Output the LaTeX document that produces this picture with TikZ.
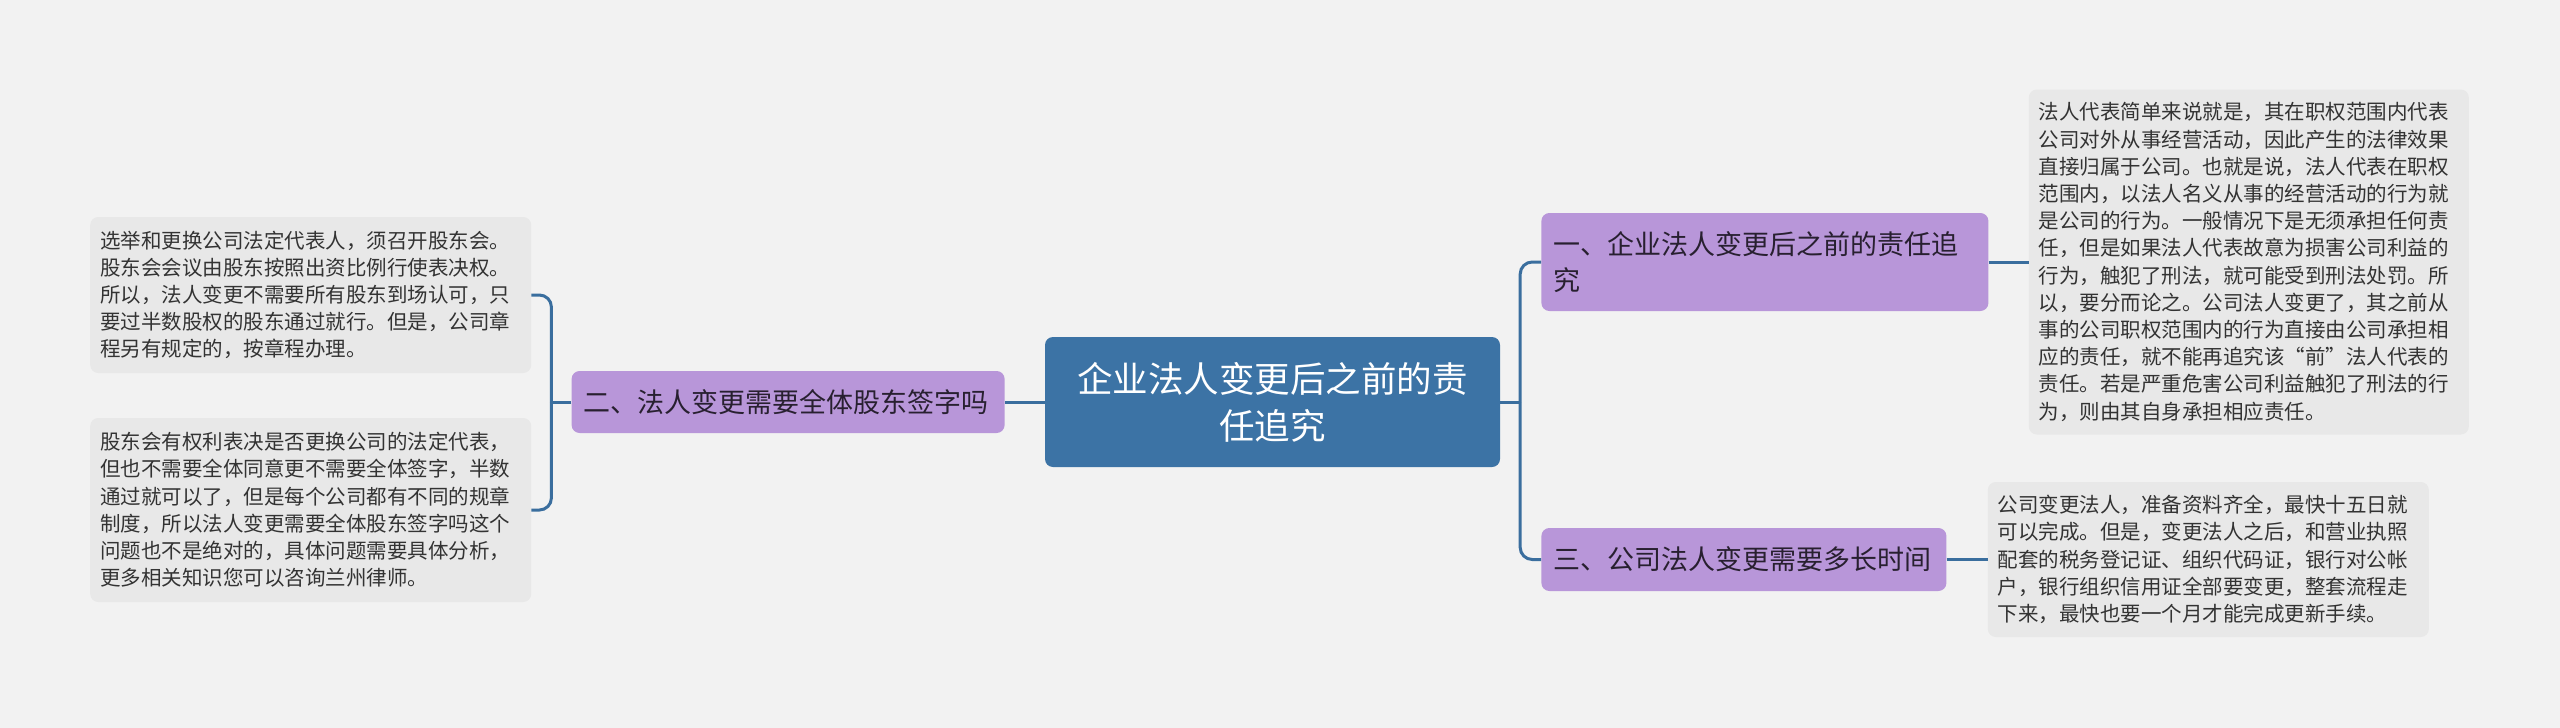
\documentclass[tikz,border=0pt]{standalone}
\usepackage{fontspec}
\setmainfont{Noto Sans CJK SC}
\usepackage{tikz}
\usetikzlibrary{positioning}

\definecolor{bggray}{RGB}{242,242,242}
\definecolor{leafgray}{RGB}{232,232,232}
\definecolor{leaftext}{RGB}{51,51,51}
\definecolor{rootblue}{RGB}{60,115,165}
\definecolor{branchpurple}{RGB}{184,150,217}
\definecolor{branchtext}{RGB}{40,32,48}
\definecolor{linkblue}{RGB}{58,110,158}

\begin{document}
\begin{tikzpicture}[x=1pt,y=-1pt,
  root node/.style={fill=rootblue,text=white,rounded corners=8pt,align=center,
    font=\fontsize{35.5}{47}\selectfont,minimum width=455pt,minimum height=130pt,inner sep=0pt},
  branch node/.style={fill=branchpurple,text=branchtext,rounded corners=8pt,align=left,
    font=\fontsize{27}{36}\selectfont,inner xsep=12pt,inner ysep=0pt},
  leaf node/.style={fill=leafgray,text=leaftext,rounded corners=8pt,align=left,
    font=\fontsize{20.5}{27.2}\selectfont,inner xsep=10pt,inner ysep=0pt,text width=421pt},
  link/.style={draw=linkblue,line width=3pt}]
  \useasboundingbox[fill=bggray] (0,0) rectangle (2560,728);

  \node[root node] (root) at (1272.5,402) {企业法人变更后之前的责\\任追究};

  \node[branch node,text width=409pt,minimum height=62pt] (b2) [left=40pt of root]
    {二、法人变更需要全体股东签字吗};
  \node[branch node,text width=423pt,minimum height=98pt] (b1) [right=41pt of root,yshift=140pt]
    {一、企业法人变更后之前的责任追\\究};
  \node[branch node,text width=381pt,minimum height=63pt] (b3) [right=41pt of root,yshift=-157.5pt]
    {三、公司法人变更需要多长时间};

  % left leaves
  \node[leaf node,minimum height=156pt] (l1) [left=40pt of b2,yshift=107pt]
    {选举和更换公司法定代表人，须召开股东会。\\
     股东会会议由股东按照出资比例行使表决权。\\
     所以，法人变更不需要所有股东到场认可，只\\
     要过半数股权的股东通过就行。但是，公司章\\
     程另有规定的，按章程办理。};
  \node[leaf node,minimum height=184pt] (l2) [left=40pt of b2,yshift=-108pt]
    {股东会有权利表决是否更换公司的法定代表，\\
     但也不需要全体同意更不需要全体签字，半数\\
     通过就可以了，但是每个公司都有不同的规章\\
     制度，所以法人变更需要全体股东签字吗这个\\
     问题也不是绝对的，具体问题需要具体分析，\\
     更多相关知识您可以咨询兰州律师。};

  % right leaves
  \node[leaf node,text width=420pt,minimum height=345pt] (r1) [right=40pt of b1]
    {法人代表简单来说就是，其在职权范围内代表\\
     公司对外从事经营活动，因此产生的法律效果\\
     直接归属于公司。也就是说，法人代表在职权\\
     范围内，以法人名义从事的经营活动的行为就\\
     是公司的行为。一般情况下是无须承担任何责\\
     任，但是如果法人代表故意为损害公司利益的\\
     行为，触犯了刑法，就可能受到刑法处罚。所\\
     以，要分而论之。公司法人变更了，其之前从\\
     事的公司职权范围内的行为直接由公司承担相\\
     应的责任，就不能再追究该“前”法人代表的\\
     责任。若是严重危害公司利益触犯了刑法的行\\
     为，则由其自身承担相应责任。};
  \node[leaf node,minimum height=155pt] (r3) [right=41pt of b3]
    {公司变更法人，准备资料齐全，最快十五日就\\
     可以完成。但是，变更法人之后，和营业执照\\
     配套的税务登记证、组织代码证，银行对公帐\\
     户，银行组织信用证全部要变更，整套流程走\\
     下来，最快也要一个月才能完成更新手续。};

  \coordinate (j2) at ([xshift=-20pt]b2.west);
  \coordinate (j1) at ([xshift=20pt]root.east);

  \draw[link] (root.west) -- (b2.east);
  \draw[link] (b2.west) -- (j2);
  \draw[link,rounded corners=12pt] (j2) |- (l1.east);
  \draw[link,rounded corners=12pt] (j2) |- (l2.east);

  \draw[link] (root.east) -- (j1);
  \draw[link,rounded corners=12pt] (j1) |- (b1.west);
  \draw[link,rounded corners=12pt] (j1) |- (b3.west);
  \draw[link] (b1.east) -- (r1.west);
  \draw[link] (b3.east) -- (r3.west);
\end{tikzpicture}
\end{document}
